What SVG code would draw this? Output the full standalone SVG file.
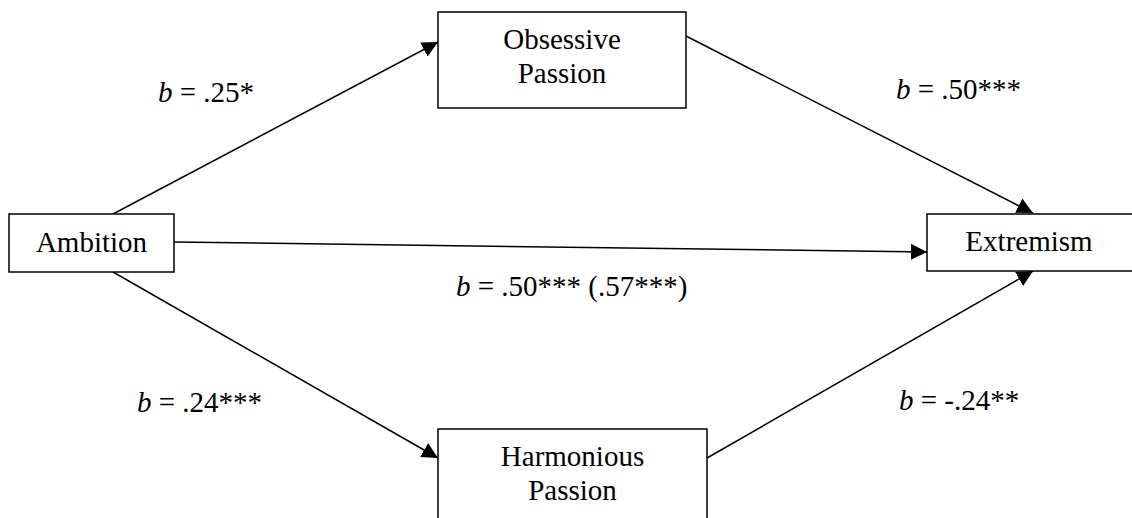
<svg xmlns="http://www.w3.org/2000/svg" width="1132" height="518" viewBox="0 0 1132 518">
<style>
.box{fill:#fff;stroke:#000;stroke-width:1.5}
.t{font-family:"Liberation Serif","Times New Roman",serif;font-size:29px;fill:#000}
.c{text-anchor:middle}
.e{stroke:#000;stroke-width:1.5;fill:none;marker-end:url(#ah)}
</style>
<defs>
<marker id="ah" viewBox="0 0 10 10" refX="10" refY="5" markerWidth="16" markerHeight="16" markerUnits="userSpaceOnUse" orient="auto">
<path d="M0,0 L10,5 L0,10 Z" fill="#000"/>
</marker>
</defs>
<rect width="1132" height="518" fill="#fff"/>
<g id="connectors">
<line class="e" x1="113" y1="214" x2="438" y2="42"/>
<line class="e" x1="113" y1="272" x2="438" y2="458"/>
<line class="e" x1="174" y1="242" x2="927" y2="252"/>
<line class="e" x1="686" y1="36" x2="1033" y2="213"/>
<line class="e" x1="707" y1="458" x2="1033" y2="271"/>
</g>
<g id="ambition">
<rect class="box" x="9" y="214" width="165" height="58"/>
<text class="t c" x="91.5" y="252">Ambition</text>
</g>
<g id="obsessive">
<rect class="box" x="438" y="12" width="248" height="96"/>
<text class="t c" x="562" y="49">Obsessive</text>
<text class="t c" x="562" y="83">Passion</text>
</g>
<g id="harmonious">
<rect class="box" x="438" y="429" width="269" height="100"/>
<text class="t c" x="572.5" y="466">Harmonious</text>
<text class="t c" x="572.5" y="500">Passion</text>
</g>
<g id="extremism">
<rect class="box" x="927" y="214" width="210" height="57"/>
<text class="t c" x="1029" y="251">Extremism</text>
</g>
<g id="labels">
<text class="t" x="158" y="102"><tspan font-style="italic">b</tspan> = .25*</text>
<text class="t" x="896" y="99"><tspan font-style="italic">b</tspan> = .50***</text>
<text class="t" x="456" y="296"><tspan font-style="italic">b</tspan> = .50*** (.57***)</text>
<text class="t" x="137" y="412"><tspan font-style="italic">b</tspan> = .24***</text>
<text class="t" x="899" y="410"><tspan font-style="italic">b</tspan> = -.24**</text>
</g>
</svg>
